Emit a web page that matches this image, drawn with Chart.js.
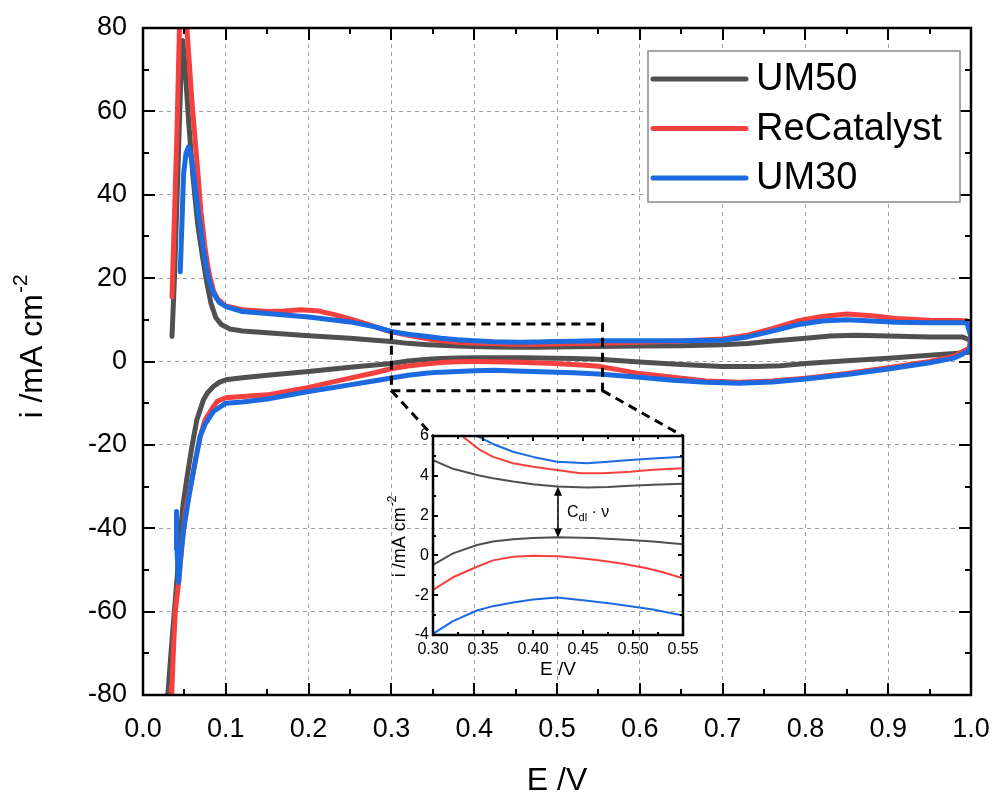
<!DOCTYPE html>
<html>
<head>
<meta charset="utf-8">
<script src="https://cdn.jsdelivr.net/npm/chart.js@4.4.0/dist/chart.umd.min.js"></script>
<style>
body { margin: 0; background: #fff; }
#wrap { position: relative; width: 995px; height: 795px; }
#main { position: absolute; left: 0; top: 0; }
#inset { position: absolute; left: 380px; top: 426px; }
</style>
</head>
<body>
<div id="wrap">
<canvas id="main" width="995" height="795"></canvas>
<canvas id="inset" width="332" height="254"></canvas>
</div>
<script>
const seriesNames = ['UM50', 'ReCatalyst', 'UM30'];
const seriesColors = ['#505050', '#f4403f', '#1b6ae0'];

// UM50: anodic sweep, then cathodic sweep back
const um50UpE = [0.035, 0.038, 0.042, 0.046, 0.048, 0.051, 0.055, 0.060, 0.066, 0.072, 0.077, 0.082, 0.088, 0.095, 0.105, 0.12, 0.15, 0.20, 0.25, 0.28, 0.30, 0.32, 0.344, 0.36, 0.38, 0.40, 0.424, 0.454, 0.475, 0.497, 0.52, 0.55, 0.60, 0.65, 0.70, 0.73, 0.76, 0.80, 0.83, 0.86, 0.90, 0.95, 0.99, 1.0];
const um50UpI = [6.0, 20, 45, 70, 77, 70, 58, 45, 33, 25, 19, 14, 10.5, 8.8, 7.8, 7.3, 6.9, 6.2, 5.6, 5.1, 4.79, 4.35, 4.04, 3.88, 3.71, 3.58, 3.46, 3.41, 3.44, 3.5, 3.55, 3.6, 3.7, 3.8, 4.0, 4.3, 4.9, 5.6, 6.1, 6.3, 6.1, 5.9, 5.9, 5.0];
const um50DownE = [0.998, 0.98, 0.95, 0.90, 0.85, 0.80, 0.77, 0.74, 0.70, 0.65, 0.60, 0.55, 0.52, 0.497, 0.46, 0.424, 0.40, 0.38, 0.36, 0.344, 0.32, 0.30, 0.27, 0.25, 0.20, 0.15, 0.12, 0.10, 0.093, 0.085, 0.078, 0.073, 0.065, 0.059, 0.053, 0.048, 0.044, 0.041, 0.037, 0.033, 0.030, 0.029];
const um50DownI = [2.2, 1.9, 1.5, 0.8, 0.2, -0.5, -1.0, -1.2, -1.2, -0.7, -0.1, 0.56, 0.7, 0.78, 0.87, 0.91, 0.88, 0.81, 0.7, 0.52, 0.1, -0.48, -1.0, -1.4, -2.4, -3.3, -3.9, -4.4, -4.9, -6.0, -7.5, -9.2, -14, -20.5, -28, -34.9, -44, -52.4, -62, -72, -80, -84];

// ReCatalyst
const recatUpE = [0.035, 0.038, 0.041, 0.044, 0.047, 0.050, 0.053, 0.059, 0.065, 0.070, 0.075, 0.080, 0.085, 0.090, 0.10, 0.12, 0.15, 0.17, 0.19, 0.21, 0.23, 0.25, 0.27, 0.29, 0.30, 0.315, 0.329, 0.347, 0.36, 0.38, 0.40, 0.424, 0.447, 0.47, 0.497, 0.52, 0.55, 0.60, 0.65, 0.70, 0.73, 0.76, 0.79, 0.82, 0.85, 0.88, 0.91, 0.95, 0.995, 1.0];
const recatUpI = [15.5, 35, 55, 80, 92, 90, 80, 62.7, 48.3, 36, 27, 21, 17, 15, 13.3, 12.4, 12.0, 12.1, 12.4, 12.2, 11.3, 10.2, 9.0, 7.7, 7.1, 6.5, 6.0, 5.3, 4.95, 4.63, 4.45, 4.29, 4.13, 4.13, 4.2, 4.3, 4.38, 4.6, 4.9, 5.4, 6.3, 7.9, 9.7, 10.8, 11.4, 11.0, 10.3, 9.9, 9.8, 7.0];
const recatDownE = [0.998, 0.99, 0.98, 0.95, 0.90, 0.85, 0.80, 0.76, 0.72, 0.68, 0.64, 0.60, 0.575, 0.55, 0.53, 0.514, 0.49, 0.464, 0.44, 0.424, 0.40, 0.38, 0.36, 0.344, 0.32, 0.30, 0.28, 0.25, 0.20, 0.15, 0.12, 0.10, 0.09, 0.085, 0.075, 0.069, 0.064, 0.059, 0.055, 0.051, 0.047, 0.043, 0.039, 0.037, 0.035, 0.034];
const recatDownI = [3.2, 2.4, 1.3, 0.0, -1.5, -2.9, -4.0, -4.7, -5.0, -4.7, -3.8, -2.9, -2.0, -1.15, -0.85, -0.65, -0.42, -0.23, -0.1, -0.04, -0.02, -0.07, -0.25, -0.57, -1.1, -1.74, -2.7, -4.0, -6.2, -8.0, -8.4, -8.7, -9.5, -10.8, -14, -18, -23, -28.4, -32, -36.4, -44, -53, -60, -68, -78, -85];

// UM30
const um30UpE = [0.045, 0.047, 0.049, 0.052, 0.055, 0.059, 0.065, 0.073, 0.079, 0.085, 0.092, 0.101, 0.12, 0.15, 0.20, 0.25, 0.28, 0.30, 0.32, 0.344, 0.36, 0.38, 0.40, 0.424, 0.454, 0.475, 0.497, 0.52, 0.55, 0.60, 0.65, 0.70, 0.73, 0.76, 0.79, 0.82, 0.85, 0.88, 0.91, 0.95, 0.995, 1.0];
const um30UpI = [21.5, 33, 45, 50, 51.5, 48.3, 38.7, 26.7, 20, 16.4, 14.2, 13.1, 12.0, 11.5, 10.7, 9.5, 8.3, 7.2, 6.55, 6.0, 5.6, 5.21, 4.95, 4.71, 4.63, 4.7, 4.79, 4.87, 4.96, 5.0, 5.0, 5.1, 5.9, 7.3, 8.8, 9.7, 10.0, 9.7, 9.4, 9.3, 9.3, 6.0];
const um30DownE = [0.999, 0.99, 0.979, 0.95, 0.90, 0.85, 0.80, 0.76, 0.72, 0.68, 0.64, 0.60, 0.55, 0.52, 0.48, 0.45, 0.424, 0.40, 0.38, 0.36, 0.344, 0.32, 0.30, 0.28, 0.25, 0.20, 0.15, 0.12, 0.10, 0.085, 0.075, 0.069, 0.064, 0.059, 0.055, 0.049, 0.045, 0.043, 0.041, 0.0405];
const um30DownI = [3.0, 1.8, 0.8, -0.3, -1.8, -3.1, -4.2, -4.9, -5.2, -5.0, -4.5, -3.8, -3.02, -2.72, -2.43, -2.25, -2.12, -2.22, -2.37, -2.55, -2.77, -3.3, -3.94, -4.6, -5.6, -7.2, -9.0, -9.7, -10.0, -12, -15, -18, -23, -28.4, -33, -40.4, -48, -53, -45, -36];

// axis ticks
const mainTicksE = { min: 0, max: 1, step: 0.1 };
const mainTicksI = { min: -80, max: 80, step: 20 };
const insetTicksE = { min: 0.30, max: 0.55, step: 0.05 };
const insetTicksI = { min: -4, max: 6, step: 2 };

// zoom box in the main chart (E range, i range)
const zoomBoxE = [0.30, 0.555];
const zoomBoxI = [-7, 9];

const FONT = '"Liberation Sans", Arial, sans-serif';

function loop(upE, upI, downE, downI) {
    const pts = upE.map((e, k) => ({ x: e, y: upI[k] }));
    return pts.concat(downE.map((e, k) => ({ x: e, y: downI[k] })));
}

const loops = [
    loop(um50UpE, um50UpI, um50DownE, um50DownI),
    loop(recatUpE, recatUpI, recatDownE, recatDownI),
    loop(um30UpE, um30UpI, um30DownE, um30DownI)
];

function makeDatasets(width) {
    return loops.map((pts, k) => ({
        label: seriesNames[k],
        data: pts,
        borderColor: seriesColors[k],
        backgroundColor: seriesColors[k],
        borderWidth: width,
        pointRadius: 0,
        tension: 0,
        borderCapStyle: 'round',
        borderJoinStyle: 'round',
        order: 2 - k
    }));
}

// no extra room for label overhang, the layout padding fixes the plot box
function fitX(h) {
    return s => { s.height = h; s.paddingLeft = 0; s.paddingRight = 0; };
}
function fitY(w) {
    return s => { s.width = w; s.paddingTop = 0; s.paddingBottom = 0; };
}

// frame with inward ticks on all four sides
function drawFrame(chart, xt, yt, major, minor, lw) {
    const { ctx, chartArea: a, scales: { x, y } } = chart;
    ctx.save();
    ctx.strokeStyle = '#000';
    ctx.lineWidth = lw;
    ctx.beginPath();
    const half = xt.step / 2;
    for (let v = xt.min; v <= xt.max + 1e-9; v += half) {
        const k = Math.round((v - xt.min) / half);
        const len = k % 2 === 0 ? major : minor;
        const px = Math.round(x.getPixelForValue(v));
        ctx.moveTo(px, a.bottom); ctx.lineTo(px, a.bottom - len);
        ctx.moveTo(px, a.top); ctx.lineTo(px, a.top + len);
    }
    const halfY = yt.step / 2;
    for (let v = yt.min; v <= yt.max + 1e-9; v += halfY) {
        const k = Math.round((v - yt.min) / halfY);
        const len = k % 2 === 0 ? major : minor;
        const py = Math.round(y.getPixelForValue(v));
        ctx.moveTo(a.left, py); ctx.lineTo(a.left + len, py);
        ctx.moveTo(a.right, py); ctx.lineTo(a.right - len, py);
    }
    ctx.stroke();
    ctx.lineWidth = lw + 0.5;
    ctx.strokeRect(a.left, a.top, a.right - a.left, a.bottom - a.top);
    ctx.restore();
}

function drawYTitle(ctx, cx, cy, size, supSize) {
    ctx.save();
    ctx.translate(cx, cy);
    ctx.rotate(-Math.PI / 2);
    ctx.fillStyle = '#000';
    ctx.textBaseline = 'middle';
    ctx.textAlign = 'left';
    ctx.font = size + 'px ' + FONT;
    const main = 'i /mA cm';
    const w1 = ctx.measureText(main).width;
    ctx.font = supSize + 'px ' + FONT;
    const w2 = ctx.measureText('-2').width;
    const start = -(w1 + w2) / 2;
    ctx.font = size + 'px ' + FONT;
    ctx.fillText(main, start, 0);
    ctx.font = supSize + 'px ' + FONT;
    ctx.fillText('-2', start + w1 + 1, -size * 0.38);
    ctx.restore();
}

// ---------- inset ----------
const insetCanvas = document.getElementById('inset');
const insetDecor = {
    id: 'insetDecor',
    afterDatasetsDraw(chart) {
        const { ctx, scales: { x, y } } = chart;
        drawFrame(chart, insetTicksE, insetTicksI, 5, 3, 2);

        // double arrow between the two gray branches
        const ax = x.getPixelForValue(0.425);
        const y1 = y.getPixelForValue(3.45);
        const y2 = y.getPixelForValue(0.9);
        ctx.save();
        ctx.strokeStyle = '#000';
        ctx.fillStyle = '#000';
        ctx.lineWidth = 1.5;
        ctx.beginPath();
        ctx.moveTo(ax, y1 + 6); ctx.lineTo(ax, y2 - 6);
        ctx.stroke();
        ctx.beginPath();
        ctx.moveTo(ax, y1); ctx.lineTo(ax - 4, y1 + 9); ctx.lineTo(ax + 4, y1 + 9); ctx.closePath();
        ctx.moveTo(ax, y2); ctx.lineTo(ax - 4, y2 - 9); ctx.lineTo(ax + 4, y2 - 9); ctx.closePath();
        ctx.fill();

        // C_dl · ν label
        const tx = x.getPixelForValue(0.434);
        const ty = y.getPixelForValue(2.15);
        ctx.textBaseline = 'middle';
        ctx.textAlign = 'left';
        ctx.font = '16px ' + FONT;
        ctx.fillText('C', tx, ty);
        const wc = ctx.measureText('C').width;
        ctx.font = '11px ' + FONT;
        ctx.fillText('dl', tx + wc, ty + 5);
        const wd = ctx.measureText('dl').width;
        ctx.font = '16px ' + FONT;
        ctx.fillText(' \u00B7 \u03BD', tx + wc + wd, ty);

        // axis titles
        ctx.font = '19px ' + FONT;
        ctx.textAlign = 'center';
        ctx.fillText('E /V', 178, 244);
        ctx.restore();
        drawYTitle(ctx, 20, 111, 18, 12);
    }
};

const insetChart = new Chart(insetCanvas, {
    type: 'line',
    data: { datasets: makeDatasets(2) },
    options: {
        responsive: false,
        animation: false,
        devicePixelRatio: 1,
        layout: { padding: { top: 10, right: 29, left: 0, bottom: 0 } },
        plugins: { legend: { display: false }, tooltip: { enabled: false } },
        scales: {
            x: {
                type: 'linear',
                min: insetTicksE.min, max: insetTicksE.max,
                afterFit: fitX(45),
                grid: { display: false, drawTicks: false },
                border: { display: false },
                ticks: {
                    stepSize: insetTicksE.step, padding: 5, color: '#000', maxRotation: 0,
                    font: { family: FONT, size: 16 },
                    callback: v => v.toFixed(2)
                }
            },
            y: {
                type: 'linear',
                min: insetTicksI.min, max: insetTicksI.max,
                afterFit: fitY(53),
                grid: { display: false, drawTicks: false },
                border: { display: false },
                ticks: {
                    stepSize: insetTicksI.step, padding: 4, color: '#000',
                    font: { family: FONT, size: 16 },
                    callback: v => String(v)
                }
            }
        }
    },
    plugins: [insetDecor]
});

// ---------- main ----------
const mainDecor = {
    id: 'mainDecor',
    afterDatasetsDraw(chart) {
        const { ctx, scales: { x, y } } = chart;

        // dashed zoom box and connectors to the inset
        const bx1 = x.getPixelForValue(zoomBoxE[0]);
        const bx2 = x.getPixelForValue(zoomBoxE[1]);
        const by1 = y.getPixelForValue(zoomBoxI[1]);
        const by2 = y.getPixelForValue(zoomBoxI[0]);
        const ia = insetChart.chartArea;
        const ox = insetCanvas.offsetLeft, oy = insetCanvas.offsetTop;
        ctx.save();
        ctx.strokeStyle = '#000';
        ctx.lineWidth = 3;
        ctx.setLineDash([9, 6]);
        ctx.strokeRect(bx1, by1, bx2 - bx1, by2 - by1);
        ctx.beginPath();
        ctx.moveTo(bx1, by2); ctx.lineTo(ox + ia.left, oy + ia.top);
        ctx.moveTo(bx2, by2); ctx.lineTo(ox + ia.right, oy + ia.top);
        ctx.stroke();
        ctx.restore();

        drawFrame(chart, mainTicksE, mainTicksI, 12, 6, 2);
    },
    afterDraw(chart) {
        const { ctx } = chart;
        // legend
        ctx.save();
        ctx.fillStyle = '#fff';
        ctx.fillRect(648, 51, 312, 151);
        ctx.strokeStyle = '#8a8a8a';
        ctx.lineWidth = 1.5;
        ctx.strokeRect(648, 51, 312, 151);
        ctx.font = '38px ' + FONT;
        ctx.textBaseline = 'middle';
        ctx.textAlign = 'left';
        chart.data.datasets.forEach((ds, k) => {
            const ly = 79 + k * 49.5;
            ctx.strokeStyle = ds.borderColor;
            ctx.lineWidth = 5;
            ctx.lineCap = 'round';
            ctx.beginPath();
            ctx.moveTo(653, ly); ctx.lineTo(746, ly);
            ctx.stroke();
            ctx.fillStyle = '#000';
            ctx.fillText(ds.label, 756, ly + 1);
        });

        // axis titles
        ctx.font = '32px ' + FONT;
        ctx.textAlign = 'center';
        ctx.fillText('E /V', 557, 781);
        ctx.restore();
        drawYTitle(ctx, 33, 347, 32, 21);
    }
};

new Chart(document.getElementById('main'), {
    type: 'line',
    data: { datasets: makeDatasets(5) },
    options: {
        responsive: false,
        animation: false,
        devicePixelRatio: 1,
        layout: { padding: { top: 28, right: 24, left: 0, bottom: 0 } },
        plugins: { legend: { display: false }, tooltip: { enabled: false } },
        scales: {
            x: {
                type: 'linear',
                min: mainTicksE.min, max: mainTicksE.max,
                afterFit: fitX(100),
                grid: { color: '#a0a0a0', lineWidth: 1, drawTicks: false },
                border: { display: false, dash: [4, 4] },
                ticks: {
                    stepSize: mainTicksE.step, padding: 18, color: '#000', maxRotation: 0,
                    font: { family: FONT, size: 27 },
                    callback: v => v.toFixed(1)
                }
            },
            y: {
                type: 'linear',
                min: mainTicksI.min, max: mainTicksI.max,
                afterFit: fitY(143),
                grid: { color: '#a0a0a0', lineWidth: 1, drawTicks: false },
                border: { display: false, dash: [4, 4] },
                ticks: {
                    stepSize: mainTicksI.step, padding: 16, color: '#000',
                    font: { family: FONT, size: 27 },
                    callback: v => String(v)
                }
            }
        }
    },
    plugins: [mainDecor]
});
</script>
</body>
</html>
